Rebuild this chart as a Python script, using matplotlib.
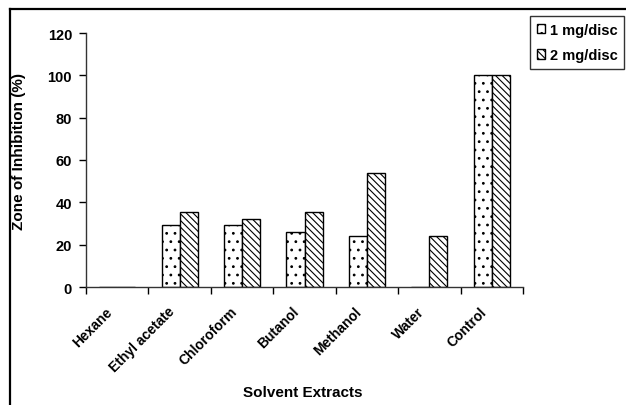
import numpy as np
import matplotlib.pyplot as plt
from matplotlib.lines import Line2D

# Solvent extract categories and inhibition (%) at two doses
extracts = ["Hexane", "Ethyl acetate", "Chloroform", "Butanol",
            "Methanol", "Water", "Control"]
dose_1mg = [0, 29.5, 29.5, 26, 24, 0, 100]
dose_2mg = [0, 35.5, 32, 35.5, 54, 24, 100]
series_labels = ["1 mg/disc", "2 mg/disc"]
y_ticks = [0, 20, 40, 60, 80, 100, 120]

plt.rcParams['font.family'] = ['Liberation Sans', 'DejaVu Sans']
plt.rcParams['hatch.linewidth'] = 0.8

fig = plt.figure(figsize=(6.26, 4.06), dpi=100)
ax = fig.add_axes([86 / 626, 1 - 288 / 406, (523 - 86) / 626, (288 - 34) / 406])

x = np.arange(len(extracts))
w = 0.29
ax.bar(x - w / 2, dose_1mg, w, color='white', edgecolor='black',
       linewidth=1.0, hatch='..', label=series_labels[0])
ax.bar(x + w / 2, dose_2mg, w, color='white', edgecolor='black',
       linewidth=1.0, hatch='\\\\\\\\\\', label=series_labels[1])

ax.set_xlim(-0.5, len(extracts) - 0.5)
ax.set_ylim(0, 120)
ax.set_yticks(y_ticks)
ax.set_yticklabels([str(t) for t in y_ticks], fontsize=10.5, fontweight='bold')

# category boundaries carry the tick marks, labels sit at the centres
ax.set_xticks(np.arange(len(extracts) + 1) - 0.5)
ax.set_xticklabels([])
ax.tick_params(axis='x', direction='out', length=5, width=1)
ax.tick_params(axis='y', direction='out', length=5, width=1, pad=5)
for xi, name in zip(x, extracts):
    ax.text(xi - 0.2, -8, name, rotation=45, ha='right', va='top',
            fontsize=10, fontweight='bold', rotation_mode='anchor')

for side in ['top', 'right']:
    ax.spines[side].set_visible(False)
for side in ['left', 'bottom']:
    ax.spines[side].set_linewidth(1.0)
    ax.spines[side].set_color('#333333')

fig.text(19 / 626, 1 - 152 / 406, "Zone of Inhibition (%)", rotation=90,
         ha='center', va='center', fontsize=11, fontweight='bold')
fig.text(303 / 626, 1 - 393 / 406, "Solvent Extracts", ha='center', va='center',
         fontsize=11, fontweight='bold')

leg = fig.legend(loc='upper right', bbox_to_anchor=(624 / 626, 1 - 17 / 406),
                 prop={'weight': 'bold', 'size': 10.5},
                 frameon=True, fancybox=False, edgecolor='black',
                 handlelength=0.6, handleheight=0.6, handletextpad=0.3,
                 borderpad=0.45, borderaxespad=0, labelspacing=0.8)
leg.get_frame().set_linewidth(1.0)

# outer frame along the left and top edges
fig.add_artist(Line2D([10 / 626, 10 / 626], [0, 1 - 10 / 406],
                      transform=fig.transFigure, color='black', linewidth=1.6))
fig.add_artist(Line2D([10 / 626, 1], [1 - 10 / 406, 1 - 10 / 406],
                      transform=fig.transFigure, color='black', linewidth=1.6))

fig.savefig("out.png", dpi=100)
